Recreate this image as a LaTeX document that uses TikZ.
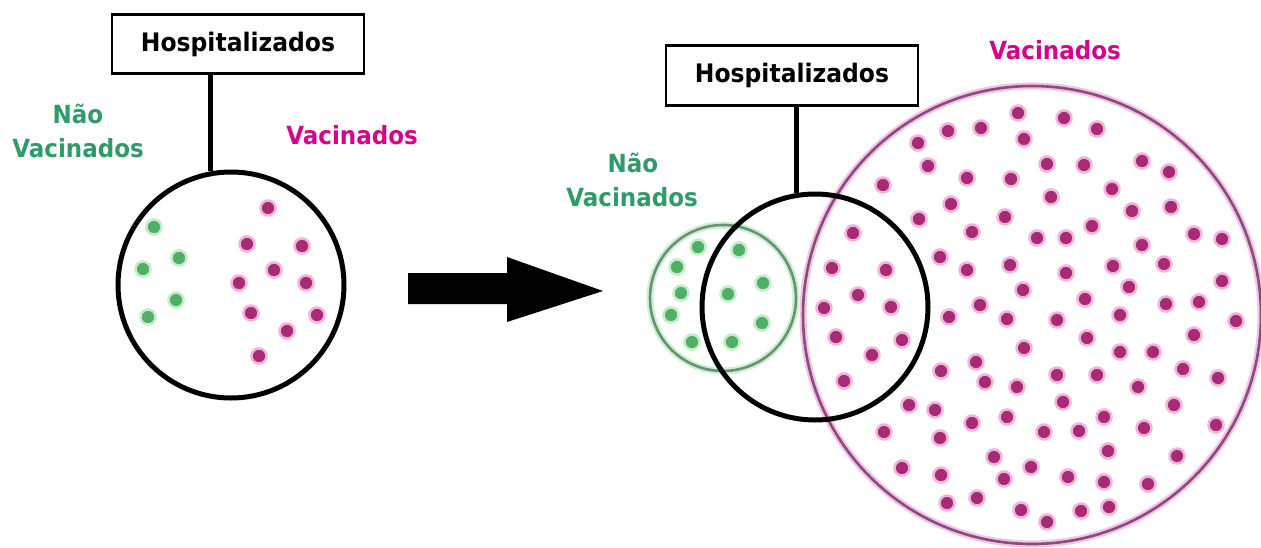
\documentclass[tikz,border=0pt]{standalone}
\usepackage{fontspec}
\newfontfamily\lblfont{DejaVu Sans}[FakeStretch=0.92]
\definecolor{mcore}{RGB}{166,42,116}
\definecolor{mhalo}{RGB}{242,178,218}
\definecolor{gcore}{RGB}{80,175,100}
\definecolor{ghalo}{RGB}{195,236,200}
\definecolor{gring}{RGB}{105,145,115}
\definecolor{gglow}{RGB}{205,240,210}
\definecolor{mring}{RGB}{140,75,125}
\definecolor{mglow}{RGB}{242,195,228}
\definecolor{gtext}{RGB}{46,155,105}
\definecolor{mtext}{RGB}{214,0,140}
\tikzset{
  lbl/.style={font=\lblfont\bfseries\fontsize{25}{30}\selectfont, inner sep=0pt, anchor=base},
  hbox/.style={draw=black, line width=2.5pt, fill=white, minimum width=252pt, font=\lblfont\bfseries\fontsize{25.5}{30}\selectfont, text depth=4pt, inner sep=0pt, anchor=north},
  hcirc/.style={circle, draw=black, line width=5pt, inner sep=0pt, minimum size=226pt},
  conn/.style={draw=black, line width=5pt},
  mdot/.style={fill=mcore, draw=mhalo, line width=2.5pt},
  gdot/.style={fill=gcore, draw=ghalo, line width=2.5pt}
}
\begin{document}
\begin{tikzpicture}[x=1pt,y=-1pt]
\useasboundingbox (0,0) rectangle (1261,547);
\fill[white] (0,0) rectangle (1261,547);

% ---------- left part ----------
\node[hbox, minimum height=59pt] (box1) at (238,13) {Hospitalizados};
\node[lbl, text=gtext] (nao1) at (78,123) {Não};
\node[lbl, text=gtext] (vac1) at (78,157) {Vacinados};
\node[lbl, text=mtext] (vacm1) at (352,144) {Vacinados};
\node[hcirc] (hosp1) at (231,285) {};
\draw[conn] (box1.south -| hosp1.100.7) -- (hosp1.100.7);
\foreach \x/\y in {154/227,179/258,143/269,176/300,148/317}
  \filldraw[gdot] (\x,\y) circle (7.5pt);
\foreach \x/\y in {268/208,247/244,302/246,274/270,239/283,306/283,251/313,317/315,287/331,259/356}
  \filldraw[mdot] (\x,\y) circle (7.5pt);

% ---------- arrow ----------
\fill[black] (408,273) -- (507,273) -- (507,257) -- (603,291) -- (507,322) -- (507,304) -- (408,304) -- cycle;

% ---------- right part ----------
\node[lbl, text=gtext] (nao2) at (633,172) {Não};
\node[lbl, text=gtext] (vac2) at (632,206) {Vacinados};
\node[lbl, text=mtext] (vacm2) at (1055,59) {Vacinados};

% big vaccinated circle
\node[circle, draw=mglow, line width=7pt, inner sep=0pt, minimum size=458pt] (big) at (1032,315) {};
\node[circle, draw=mring, line width=2.6pt, inner sep=0pt, minimum size=458pt] (bigring) at (1032,315) {};
\foreach \x/\y in {1018/113,948/131,981/128,1024/139,918/143,928/166,967/178,1011/179,883/185,951/204,
  919/219,1005/217,972/232,853/233,940/257,967/270,1010/265,1023/290,832/268,886/270,858/295,980/305,
  824/308,891/307,949/317,1007/319,1064/118,1097/129,1047/164,1084/165,1142/161,1169/172,1112/189,
  1051/197,1132/211,1171/207,1092/226,1037/238,1066/238,1142/245,1194/234,1222/239,1066/273,1113/266,
  1164/264,1222/281,1085/299,1129/287,1166/304,1199/302,1057/320,1120/315,1236/321,836/337,902/340,
  1024/348,872/355,976/362,941/371,985/382,1017/387,844/381,909/405,935/410,972/423,1007/417,884/432,
  940/438,994/457,902/468,941/475,1004/479,1031/467,947/503,977/498,1021/510,1087/338,1194/335,
  1120/352,1153/352,1057/375,1097/375,1183/369,1218/378,1138/387,1063/402,1174/405,1104/417,1044/432,
  1079/431,1144/428,1216/425,1108/451,1177/456,1068/477,1104/482,1148/484,1047/522,1081/511,1109/507}
  \filldraw[mdot] (\x,\y) circle (7.5pt);

% unvaccinated circle
\node[circle, draw=gglow, line width=7pt, inner sep=0pt, minimum size=146pt] (green) at (723,298) {};
\node[circle, draw=gring, line width=2.6pt, inner sep=0pt, minimum size=146pt] (greenring) at (723,298) {};
\foreach \x/\y in {698/247,739/250,677/267,763/283,681/293,728/294,671/315,762/323,692/342,732/342}
  \filldraw[gdot] (\x,\y) circle (7.5pt);

% hospitalized circle
\node[hcirc] (hosp2) at (815,307) {};
\node[hbox, minimum height=60pt] (box2) at (792,44) {Hospitalizados};
\draw[conn] (box2.south -| hosp2.99.2) -- (hosp2.99.2);
\end{tikzpicture}
\end{document}
